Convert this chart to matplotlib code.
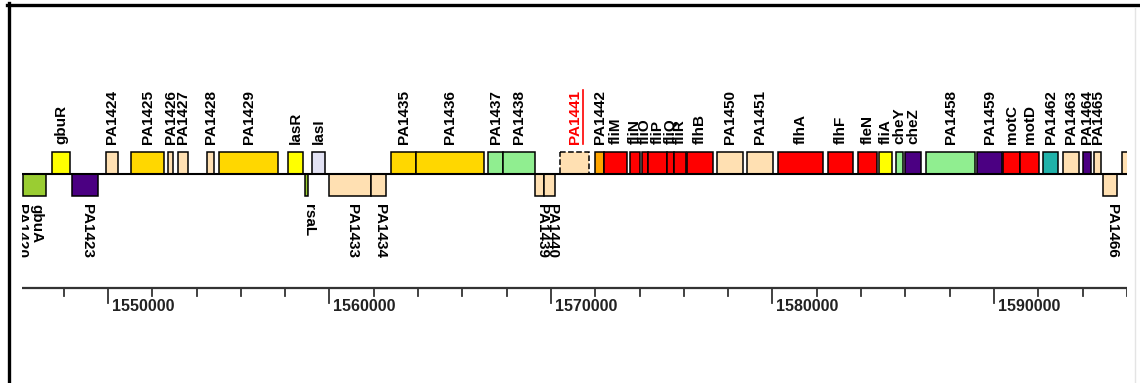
import matplotlib
matplotlib.use("Agg")
import matplotlib.pyplot as plt
from matplotlib.patches import Rectangle
from matplotlib.lines import Line2D

# gene map data (bp coordinates)
names = ["gbuA", "gbuR", "PA1423", "PA1424", "PA1425", "PA1426", "PA1427", "PA1428",
         "PA1429", "lasR", "rsaL", "lasI", "PA1433", "PA1434", "PA1435", "PA1436",
         "PA1437", "PA1438", "PA1439", "PA1440", "PA1441", "PA1442", "fliM", "fliN",
         "fliO", "fliP", "fliQ", "fliR", "flhB", "PA1450", "PA1451", "flhA", "flhF",
         "fleN", "fliA", "cheY", "cheZ", "PA1458", "PA1459", "motC", "motD", "PA1462",
         "PA1463", "PA1464", "PA1465", "PA1466", "PA1467"]
starts = [1546180, 1547470, 1548380, 1549910, 1551040, 1552710, 1553160, 1554470,
          1555010, 1558130, 1558900, 1559210, 1559980, 1561870, 1562780, 1563910,
          1567160, 1567830, 1569280, 1569690, 1570410, 1571990, 1572390, 1573570,
          1574110, 1574380, 1575240, 1575560, 1576140, 1577500, 1578850, 1580250,
          1582510, 1583860, 1584810, 1585580, 1585980, 1586930, 1589240, 1590410,
          1591180, 1592220, 1593120, 1594020, 1594520, 1594930, 1595780]
ends = [1547200, 1548280, 1549550, 1550450, 1552530, 1552940, 1553610, 1554790,
        1557680, 1558800, 1559030, 1559800, 1561870, 1562550, 1563910, 1566980,
        1567830, 1569280, 1569690, 1570180, 1571720, 1572390, 1573430, 1574020,
        1574380, 1575240, 1575560, 1576100, 1577320, 1578670, 1580030, 1582280,
        1583640, 1584720, 1585400, 1585890, 1586710, 1589150, 1590360, 1591180,
        1592040, 1592890, 1593840, 1594380, 1594830, 1595560, 1597000]
strands = [-1, 1, -1, 1, 1, 1, 1, 1,
           1, 1, -1, 1, -1, -1, 1, 1,
           1, 1, -1, -1, 1, 1, 1, 1,
           1, 1, 1, 1, 1, 1, 1, 1,
           1, 1, 1, 1, 1, 1, 1, 1,
           1, 1, 1, 1, 1, -1, 1]
classes = ["metabolism", "regulator", "membrane", "hypothetical", "transport", "hypothetical",
           "hypothetical", "hypothetical", "transport", "regulator", "metabolism", "signal",
           "hypothetical", "hypothetical", "transport", "transport", "enzyme", "enzyme",
           "hypothetical", "hypothetical", "hypothetical", "unknown", "motility", "motility",
           "motility", "motility", "motility", "motility", "motility", "hypothetical",
           "hypothetical", "motility", "motility", "motility", "regulator", "enzyme",
           "membrane", "enzyme", "membrane", "motility", "motility", "secretion",
           "hypothetical", "membrane", "hypothetical", "hypothetical", "hypothetical"]
highlight = "PA1441"
extra_label = {"gbuA": "PA1420"}  # neighbour label cut off at the left edge

ticks_major = [1550000, 1560000, 1570000, 1580000, 1590000]
x_min, x_max = 1546100, 1596000

class_colors = {"metabolism": "#9ACD32", "regulator": "#FFFF00", "membrane": "#4B0082",
                "hypothetical": "#FFE0B2", "transport": "#FFD700", "signal": "#E2E2F4",
                "enzyme": "#90EE90", "unknown": "#FFA500", "motility": "#FF0000",
                "secretion": "#20B2AA"}

W, H = 1140, 383
fig = plt.figure(figsize=(W / 100, H / 100), dpi=100)
px0, px1 = 21.6, 1126.9
ax = fig.add_axes([px0 / W, 0, (px1 - px0) / W, 1])
ax.set_xlim(x_min, x_max)
ax.set_ylim(H, 0)
ax.axis("off")

font = "Liberation Sans"
fs = 11
base_y = 174
box_h = 22
bp_per_px = (x_max - x_min) / (px1 - px0)

# baseline of the gene track
ax.plot([x_min, x_max], [base_y, base_y], color="black", lw=1.5, zorder=3)

for i in range(len(names)):
    s, e = starts[i], ends[i]
    y0 = base_y - box_h if strands[i] > 0 else base_y
    ls = "--" if names[i] == highlight else "-"
    ax.add_patch(Rectangle((s, y0), e - s, box_h, facecolor=class_colors[classes[i]],
                           edgecolor="black", lw=1.1, linestyle=ls, zorder=2))
    cx = (s + e) / 2
    col = "red" if names[i] == highlight else "black"
    if strands[i] > 0:
        t = ax.text(cx, base_y - box_h - 8, names[i], rotation=90, ha="center", va="bottom",
                    fontsize=fs, fontweight="bold", family=font, color=col, clip_on=True)
    else:
        t = ax.text(cx + 2 * bp_per_px, base_y + box_h + 8, names[i], rotation=270,
                    ha="center", va="top", fontsize=fs, fontweight="bold", family=font,
                    color=col, clip_on=True)
    if names[i] in extra_label:
        ax.text(cx - 14 * bp_per_px, base_y + box_h + 8, extra_label[names[i]], rotation=270,
                ha="center", va="top", fontsize=fs, fontweight="bold", family=font,
                color=col, clip_on=True)
    if names[i] == highlight:
        hl_text = t

# underline for the highlighted gene label
fig.canvas.draw()
bb = hl_text.get_window_extent().transformed(ax.transData.inverted())
ux = bb.x1 + 1 * bp_per_px
ax.plot([ux, ux], [bb.y0, bb.y1], color="red", lw=1.2)

# ruler
ruler_y = 288
ax.plot([x_min, x_max], [ruler_y, ruler_y], color="#333333", lw=1.6)
for tk in range(1548000, x_max + 1, 2000):
    if tk in ticks_major:
        ax.plot([tk, tk], [ruler_y, ruler_y + 15], color="#333333", lw=1.3)
        ax.text(tk + 4 * bp_per_px, ruler_y + 11, str(tk), ha="left", va="top",
                fontsize=11.5, fontweight="bold", family=font, color="#222222")
    else:
        ax.plot([tk, tk], [ruler_y, ruler_y + 8], color="#333333", lw=1.3)

# frame of the original picture
fig.add_artist(Line2D([8.5 / W, 8.5 / W], [0, 1 - 3 / H], color="black", lw=2.4,
                      transform=fig.transFigure))
fig.add_artist(Line2D([7 / W, 1], [1 - 4.5 / H, 1 - 4.5 / H], color="black", lw=2.4,
                      transform=fig.transFigure))
fig.add_artist(Line2D([1135 / W, 1135 / W], [0, 1 - 8 / H], color="#e4e4e4", lw=1,
                      transform=fig.transFigure))

fig.savefig("out.png", dpi=100)
